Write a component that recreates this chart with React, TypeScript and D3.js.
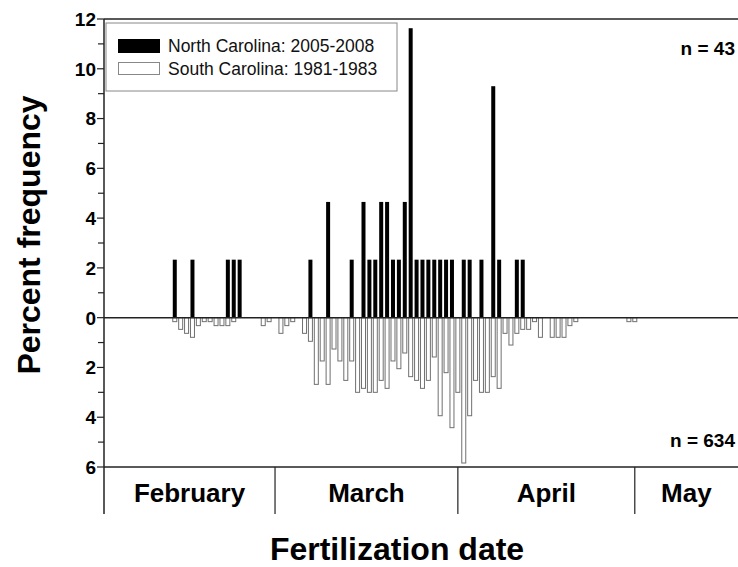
import React, { useEffect, useRef } from "react";
import * as d3 from "d3";

// day index: 1 = Feb 1 (Feb has 29 days here), 30 = Mar 1, 61 = Apr 1, 91 = May 1
const ncDays = [12, 15, 21, 22, 23, 35, 38, 42, 44, 45, 46, 47, 48, 49, 50, 51, 52, 53, 54, 55, 56, 57, 58, 59, 61, 62, 64, 66, 67, 70, 71];
const ncValues = [2.33, 2.33, 2.33, 2.33, 2.33, 2.33, 4.65, 2.33, 4.65, 2.33, 2.33, 4.65, 4.65, 2.33, 2.33, 4.65, 11.63, 2.33, 2.33, 2.33, 2.33, 2.33, 2.33, 2.33, 2.33, 2.33, 2.33, 9.3, 2.33, 2.33, 2.33];

const scDays = [12, 13, 14, 15, 16, 17, 18, 19, 20, 21, 22, 27, 28, 30, 31, 32, 34, 35, 36, 37, 38, 39, 40, 41, 42, 43, 44, 45, 46, 47, 48, 49, 50, 51, 52, 53, 54, 55, 56, 57, 58, 59, 60, 61, 62, 63, 64, 65, 66, 67, 68, 69, 70, 71, 72, 73, 74, 76, 77, 78, 79, 80, 89, 90];
const scValues = [0.16, 0.47, 0.63, 0.79, 0.32, 0.16, 0.16, 0.32, 0.32, 0.32, 0.16, 0.32, 0.16, 0.63, 0.32, 0.16, 0.63, 0.95, 2.68, 1.74, 2.68, 1.26, 1.74, 2.52, 1.74, 3.0, 2.84, 3.0, 3.0, 2.52, 2.84, 1.74, 2.05, 1.42, 2.37, 2.52, 2.84, 2.52, 1.58, 3.94, 2.21, 4.42, 3.0, 5.84, 3.94, 2.52, 3.0, 3.0, 2.37, 2.84, 0.63, 1.1, 0.63, 0.47, 0.47, 0.16, 0.79, 0.79, 0.79, 0.79, 0.32, 0.16, 0.16, 0.16];

const months = ["February", "March", "April", "May"];
const monthStarts = [0, 29, 60, 90, 107.5];
const yTicks = [-6, -4, -2, 0, 2, 4, 6, 8, 10, 12];
const yMinor = [-5, -3, -1, 1, 3, 5, 7, 9, 11];

const FONT = "'Liberation Sans', Arial, sans-serif";

const App = () => {
  const ref = useRef<SVGSVGElement>(null);

  useEffect(() => {
    const svg = d3.select(ref.current);
    svg.selectAll("*").remove();

    const x = d3.scaleLinear().domain([0, 107.5]).range([104, 738]);
    const y = d3.scaleLinear().domain([-6, 12]).range([467, 19]);
    const bw = 4;

    // bars
    svg.append("g")
      .selectAll("rect")
      .data(scDays.map((d, i) => ({ d, v: scValues[i] })))
      .enter()
      .append("rect")
      .attr("x", p => x(p.d) - bw / 2)
      .attr("y", y(0))
      .attr("width", bw)
      .attr("height", p => y(-p.v) - y(0))
      .attr("fill", "white")
      .attr("stroke", "#707070")
      .attr("stroke-width", 1);

    svg.append("g")
      .selectAll("rect")
      .data(ncDays.map((d, i) => ({ d, v: ncValues[i] })))
      .enter()
      .append("rect")
      .attr("x", p => x(p.d) - bw / 2)
      .attr("y", p => y(p.v))
      .attr("width", bw)
      .attr("height", p => y(0) - y(p.v))
      .attr("fill", "black");

    // frame lines
    const line = (x1, y1, x2, y2, w = 1.5) =>
      svg.append("line")
        .attr("x1", x1).attr("y1", y1).attr("x2", x2).attr("y2", y2)
        .attr("stroke", "#222").attr("stroke-width", w);

    line(x(0), y(12), 738, y(12));
    line(x(0), y(0), 738, y(0));
    line(x(0), y(-6), 738, y(-6));
    line(x(0), y(12), x(0), 514);
    monthStarts.slice(1, 4).forEach(m => line(x(m), y(-6), x(m), 514, 1.2));

    // y ticks
    yTicks.forEach(t => line(x(0) - 7, y(t), x(0), y(t), 1.2));
    yMinor.forEach(t => line(x(0) - 6, y(t), x(0), y(t), 1.2));

    svg.append("g")
      .selectAll("text")
      .data(yTicks)
      .enter()
      .append("text")
      .attr("x", 96)
      .attr("y", t => y(t))
      .attr("dy", "0.36em")
      .attr("text-anchor", "end")
      .style("font-family", FONT)
      .style("font-weight", "bold")
      .style("font-size", "19px")
      .text(t => Math.abs(t));

    // month labels
    svg.append("g")
      .selectAll("text")
      .data(months)
      .enter()
      .append("text")
      .attr("x", (m, i) => (x(monthStarts[i]) + x(monthStarts[i + 1])) / 2)
      .attr("y", 502)
      .attr("text-anchor", "middle")
      .style("font-family", FONT)
      .style("font-weight", "bold")
      .style("font-size", "26px")
      .text(m => m);

    // axis titles
    svg.append("text")
      .attr("transform", "translate(40,235) rotate(-90)")
      .attr("text-anchor", "middle")
      .style("font-family", FONT)
      .style("font-weight", "bold")
      .style("font-size", "32px")
      .text("Percent frequency");

    svg.append("text")
      .attr("x", 397)
      .attr("y", 560)
      .attr("text-anchor", "middle")
      .style("font-family", FONT)
      .style("font-weight", "bold")
      .style("font-size", "32px")
      .text("Fertilization date");

    // n labels
    [["n = 43", 55], ["n = 634", 447]].forEach(([t, yy]) =>
      svg.append("text")
        .attr("x", 735)
        .attr("y", yy)
        .attr("text-anchor", "end")
        .style("font-family", FONT)
        .style("font-weight", "bold")
        .style("font-size", "19px")
        .text(t as string)
    );

    // legend
    const lg = svg.append("g");
    lg.append("rect").attr("x", 106).attr("y", 23).attr("width", 291).attr("height", 68)
      .attr("fill", "white").attr("stroke", "#888").attr("stroke-width", 1);
    lg.append("rect").attr("x", 118).attr("y", 39).attr("width", 42).attr("height", 14).attr("fill", "black");
    lg.append("rect").attr("x", 118.5).attr("y", 62.5).attr("width", 41).attr("height", 12)
      .attr("fill", "white").attr("stroke", "#888");
    [["North Carolina: 2005-2008", 52], ["South Carolina: 1981-1983", 75]].forEach(([t, yy]) =>
      lg.append("text")
        .attr("x", 168)
        .attr("y", yy)
        .style("font-family", FONT)
        .style("font-size", "17.5px")
        .style("fill", "#111")
        .text(t as string)
    );
  }, []);

  return (
    <div>
      <svg ref={ref} width={738} height={567} style={{ position: "absolute", left: 0, top: 0, background: "white" }} />
    </div>
  );
};

export default App;
